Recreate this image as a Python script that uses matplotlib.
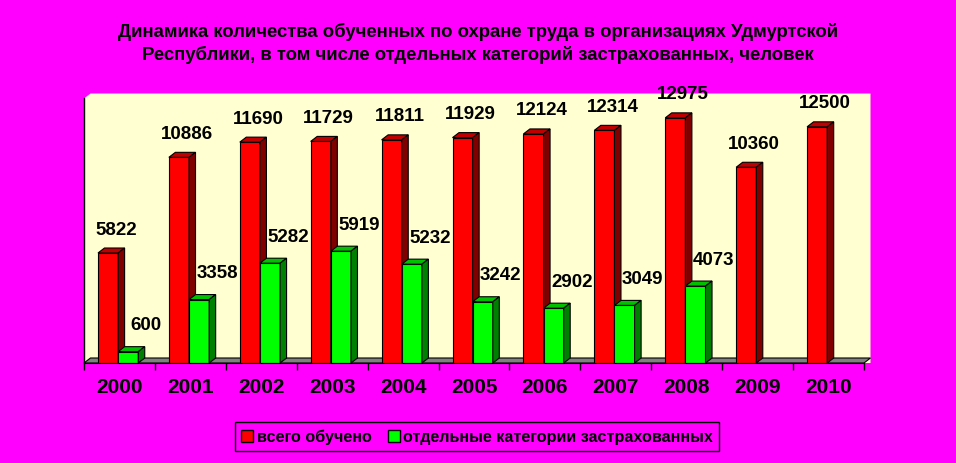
import numpy as np
import matplotlib
matplotlib.use("Agg")
import matplotlib.pyplot as plt
from matplotlib.patches import Polygon, Patch

plt.rcParams['font.family'] = ['Liberation Sans', 'DejaVu Sans']

# Данные
years = ["2000", "2001", "2002", "2003", "2004", "2005",
         "2006", "2007", "2008", "2009", "2010"]
total = [5822, 10886, 11690, 11729, 11811, 11929, 12124, 12314, 12975, 10360, 12500]
insured = [600, 3358, 5282, 5919, 5232, 3242, 2902, 3049, 4073, None, None]

title1 = "Динамика количества обученных по охране труда в организациях Удмуртской"
title2 = "Республики, в том числе отдельных категорий застрахованных, человек"
series_names = ["всего обучено", "отдельные категории застрахованных"]

# Стиль
BG = "#FF00FF"
WALL = "#FFFFD2"
FLOOR = "#808080"
colors = {"red": ("#FF0000", "#C00000", "#800000"),
          "green": ("#00FF00", "#00C000", "#008000")}
DEPTH_PX = (6.5, 5.0)
YMAX = 14000

W, H = 956, 464
fig = plt.figure(figsize=(W / 100, H / 100), dpi=100, facecolor=BG)
ax_left, ax_right, ax_bottom, ax_top = 84, 864, 364, 99.5
ax = fig.add_axes([ax_left / W, (H - ax_bottom) / H,
                   (ax_right - ax_left) / W, (ax_bottom - ax_top) / H])
ax.set_facecolor("none")
n = len(years)
ax.set_xlim(0, n)
ax.set_ylim(0, YMAX)

# глубина в единицах данных
px_x = (ax_right - ax_left) / n
px_y = (ax_bottom - ax_top) / YMAX
dx = DEPTH_PX[0] / px_x
dy = DEPTH_PX[1] / px_y

# задняя стенка и пол
wall = Polygon([(0, 0), (0, YMAX), (dx, YMAX + dy), (n + dx, YMAX + dy), (n + dx, 0)],
               closed=True, facecolor=WALL, edgecolor="none", zorder=0, clip_on=False)
ax.add_patch(wall)
ax.plot([0, 0], [0, YMAX], color="black", lw=1, zorder=1, clip_on=False)
floor = Polygon([(0, 0), (n, 0), (n + dx, dy), (dx, dy)], closed=True,
                facecolor=FLOOR, edgecolor="black", lw=0.8, zorder=1, clip_on=False)
ax.add_patch(floor)


def bars3d(x0, width, values, cols, z):
    front, top, side = cols
    for xi, v in zip(x0, values):
        if v is None:
            continue
        ax.bar(xi, v, width=width, align="edge", color=front,
               edgecolor="black", lw=0.8, zorder=z)
        x1 = xi + width
        ax.add_patch(Polygon([(xi, v), (x1, v), (x1 + dx, v + dy), (xi + dx, v + dy)],
                             closed=True, facecolor=top, edgecolor="black",
                             lw=0.8, zorder=z, clip_on=False))
        ax.add_patch(Polygon([(x1, 0), (x1, v), (x1 + dx, v + dy), (x1 + dx, dy)],
                             closed=True, facecolor=side, edgecolor="black",
                             lw=0.8, zorder=z, clip_on=False))


idx = np.arange(n)
bw = 0.284
red_x = idx + 0.197
green_x = red_x + bw
bars3d(red_x, bw, total, colors["red"], 2)
bars3d(green_x, bw, insured, colors["green"], 3)

# подписи значений
for xi, v in zip(red_x, total):
    ax.annotate(str(v), (xi + bw / 2, v), xytext=(8, 24), textcoords="offset pixels",
                ha="center", va="center", fontsize=13.5, fontweight="bold", zorder=5)
for xi, v in zip(green_x, insured):
    if v is None:
        continue
    ax.annotate(str(v), (xi + bw / 2, v), xytext=(18, 27), textcoords="offset pixels",
                ha="center", va="center", fontsize=13.5, fontweight="bold", zorder=5)

# оси
for s in ["top", "right", "left"]:
    ax.spines[s].set_visible(False)
ax.spines["bottom"].set_color("black")
ax.spines["bottom"].set_zorder(4)
ax.set_yticks([])
ax.set_xticks(np.arange(n + 1))
ax.set_xticklabels([])
ax.tick_params(axis="x", which="major", length=5, width=1, color="black", direction="out")
ax.set_xticks(idx + 0.5, minor=True)
ax.set_xticklabels(years, minor=True, fontsize=15, fontweight="bold")
ax.tick_params(axis="x", which="minor", length=0, pad=10)

# заголовок
fig.text(0.5, 1 - 32 / H, title1, ha="center", va="center", fontsize=13.3, fontweight="bold")
fig.text(0.5, 1 - 55 / H, title2, ha="center", va="center", fontsize=13.3, fontweight="bold")

# легенда
handles = [Patch(facecolor="#FF0000", edgecolor="black"),
           Patch(facecolor="#00FF00", edgecolor="black")]
leg = fig.legend(handles, series_names, loc="center", bbox_to_anchor=(477 / W, 1 - 437.5 / H),
                 ncol=2, frameon=True, fancybox=False, facecolor=BG, edgecolor="black",
                 framealpha=1, prop={"weight": "bold", "size": 11.6},
                 handlelength=0.75, handleheight=0.75, handletextpad=0.2, columnspacing=1.0,
                 borderpad=0.4)

fig.savefig("out.png", dpi=100, facecolor=BG)
